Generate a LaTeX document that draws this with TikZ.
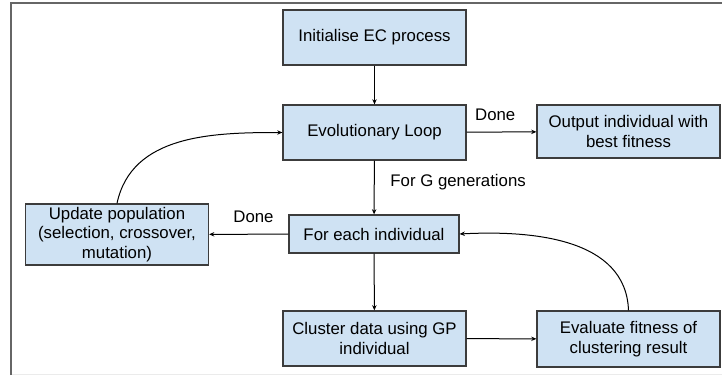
\documentclass[tikz,border=0pt]{standalone}
\usepackage{fontspec}
\setmainfont{Liberation Sans}
\usepackage{xcolor}
\usepackage{tikz}
\usetikzlibrary{positioning,arrows.meta}
\definecolor{boxblue}{HTML}{CFE2F3}
\definecolor{boxline}{HTML}{3C3C3C}

\begin{document}
\begin{tikzpicture}[x=0.5pt,y=-0.5pt,font=\fontsize{8.4}{9.8}\selectfont,
    box/.style={rectangle,draw=boxline,fill=boxblue,line width=0.6pt,inner sep=0pt,align=center,minimum width=91.5pt,minimum height=27.5pt},
    flow/.style={line width=0.5pt,-{Stealth[length=2.6pt,width=2.2pt]}}]
    \useasboundingbox (0,0) rectangle (722,375);
    \draw[line width=1pt,black!60] (11,375) -- (11,3) -- (722,3);
    \draw[line width=0.5pt,black!8] (12,374) -- (722,374);
    \node [box] (init) at (374.5,37.5) {Initialise EC process};
    \node [box] (loop) at (374.5,132.5) {Evolutionary Loop};
    \node [box,minimum height=26.5pt] (output) at (628.5,131.5) {Output individual with\\best fitness};
    \node [box,minimum height=30.5pt] (update) at (117,234.5) {Update population\\(selection, crossover,\\mutation)};
    \node [box,minimum width=85pt,minimum height=19pt] (each) at (374,234) {For each individual};
    \node [box] (cluster) at (374.5,338.5) {Cluster data using GP\\individual};
    \node [box,minimum height=28pt] (evaluate) at (628.5,339) {Evaluate fitness of\\clustering result};
    \draw[flow] (init) -- (loop);
    \draw[flow] (loop) -- (output) node[pos=0.41,above=2pt] {Done};
    \draw[flow] (loop) -- (each) node[pos=0.4,right=4.5pt] {For G generations};
    \draw[flow] (each) -- (update) node[pos=0.44,above=2pt] {Done};
    \draw[flow] (each) -- (cluster);
    \draw[flow] (cluster) -- (evaluate);
    \draw[flow] (evaluate.north) to[out=92,in=3] (each.east);
    \draw[flow] (update.north) to[out=78,in=180] (loop.west);
\end{tikzpicture}
\end{document}
